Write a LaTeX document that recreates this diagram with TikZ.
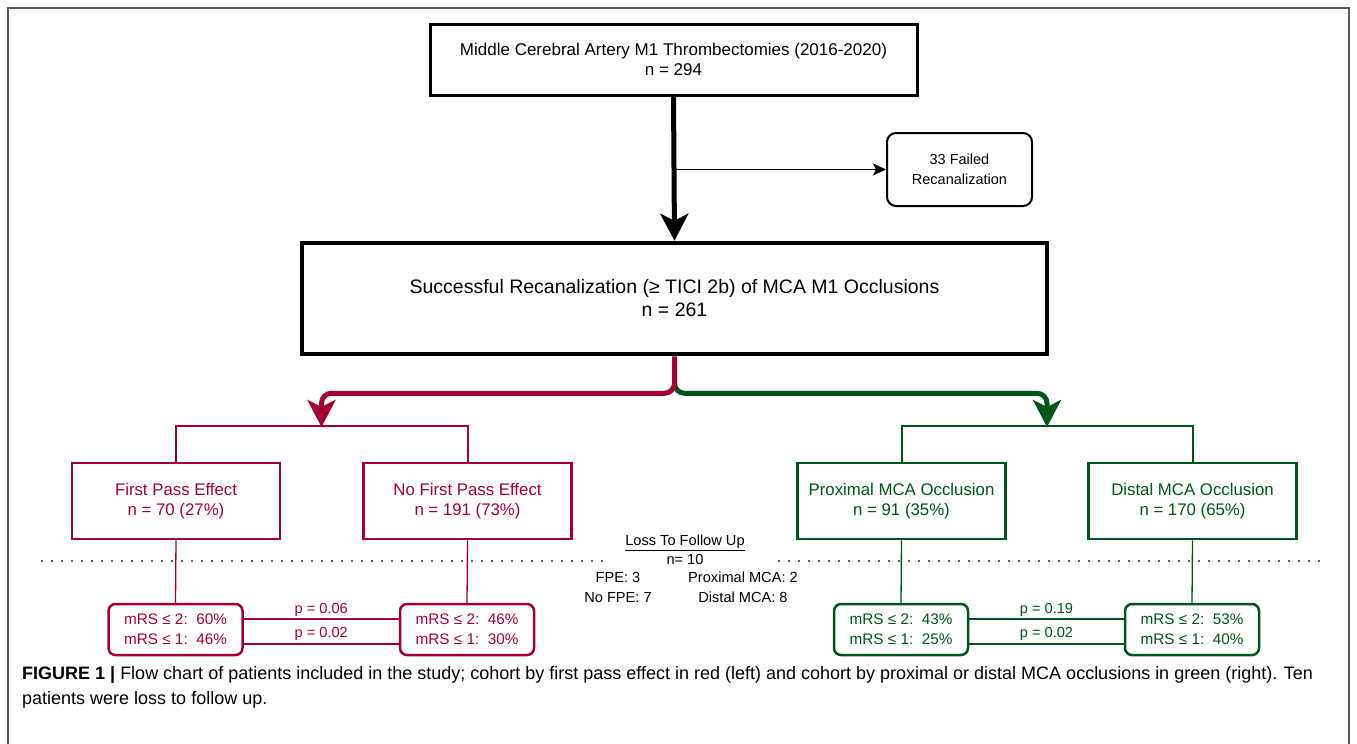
\documentclass[tikz,border=0pt]{standalone}
\usepackage{fontspec}
\setmainfont{Liberation Sans}
\usetikzlibrary{arrows.meta}
\definecolor{myred}{RGB}{165,0,52}
\definecolor{mygreen}{RGB}{0,85,25}
\begin{document}
\begin{tikzpicture}[x=1pt,y=-1pt,
  topbox/.style={draw=black, line width=3pt, minimum width=487pt, minimum height=71pt, align=center, font=\fontsize{17}{20}\selectfont},
  bigbox/.style={draw=black, line width=4.5pt, minimum width=745pt, minimum height=111pt, align=center, font=\fontsize{19.5}{23}\selectfont},
  failbox/.style={draw=black, line width=2pt, rounded corners=9pt, minimum width=145pt, minimum height=73pt, align=center, font=\fontsize{14.5}{20}\selectfont},
  groupbox/.style={draw=#1, text=#1, line width=2.5pt, minimum width=208pt, minimum height=76pt, align=center, font=\fontsize{16.8}{20}\selectfont},
  mrsbox/.style={draw=#1, text=#1, line width=2.5pt, rounded corners=7pt, minimum width=134pt, minimum height=51pt, align=center, font=\fontsize{15.3}{20}\selectfont},
  bigarrow/.style={draw=#1, line width=5pt, -{Stealth[length=27pt,width=28pt,inset=7pt]}},
  bracket/.style={draw=#1, line width=2pt},
  thinline/.style={draw=#1, line width=1.3pt},
  plabel/.style={text=#1, font=\fontsize{14.6}{16}\selectfont},
  losstext/.style={font=\fontsize{14.6}{19.5}\selectfont, align=center},
  dotline/.style={line width=2.2pt, dash pattern=on 0pt off 10pt, line cap=round, draw=black!85},
  captext/.style={anchor=base west, font=\fontsize{18}{20}\selectfont, inner sep=0pt}
]
\useasboundingbox (0,0) rectangle (1357,744);
\draw[line width=1.5pt, draw=black!65] (8,744) -- (8,8) -- (1349,8) -- (1349,744);

\node[topbox] (top) at (673.5,59.5) {Middle Cerebral Artery M1 Thrombectomies (2016-2020)\\n = 294};
\node[bigbox] (big) at (674.5,298.5) {Successful Recanalization (≥ TICI 2b) of MCA M1 Occlusions\\n = 261};
\node[failbox] (fail) at (959.5,169.5) {33 Failed\\Recanalization};

\node[groupbox=myred] (fpe) at (176,501) {First Pass Effect\\n = 70 (27\%)};
\node[groupbox=myred] (nofpe) at (467.5,501) {No First Pass Effect\\n = 191 (73\%)};
\node[groupbox=mygreen] (prox) at (901.5,501) {Proximal MCA Occlusion\\n = 91 (35\%)};
\node[groupbox=mygreen] (dist) at (1192.5,501) {Distal MCA Occlusion\\n = 170 (65\%)};

\node[mrsbox=myred] (m1) at (175.5,629.5) {mRS ≤ 2:\ \ 60\%\\mRS ≤ 1:\ \ 46\%};
\node[mrsbox=myred] (m2) at (467,629.5) {mRS ≤ 2:\ \ 46\%\\mRS ≤ 1:\ \ 30\%};
\node[mrsbox=mygreen] (m3) at (901,629.5) {mRS ≤ 2:\ \ 43\%\\mRS ≤ 1:\ \ 25\%};
\node[mrsbox=mygreen] (m4) at (1192,629.5) {mRS ≤ 2:\ \ 53\%\\mRS ≤ 1:\ \ 40\%};

% main arrows
\draw[bigarrow=black] (top.south) -- (big.north);
\draw[line width=1.8pt, -{Stealth[length=13pt,width=12pt,inset=3pt]}] (top.south |- fail.west) -- (fail.west);

\coordinate (rs) at (321.5,427);
\coordinate (gs) at (1047,427);
\draw[bigarrow=mygreen, rounded corners=10pt] (big.south) ++(0,25) -- ++(0,12) -| (gs);
\draw[bigarrow=myred, rounded corners=10pt] (big.south) -- ++(0,37) -| (rs);

% brackets
\draw[bracket=myred] (fpe.north) -- ++(0,-36) -| (nofpe.north);
\draw[bracket=mygreen] (prox.north) -- ++(0,-36) -| (dist.north);

% verticals to mRS
\draw[thinline=myred] (fpe.south) -- (m1.north);
\draw[thinline=myred] (nofpe.south) -- (m2.north);
\draw[thinline=mygreen] (prox.south) -- (m3.north);
\draw[thinline=mygreen] (dist.south) -- (m4.north);

% dotted lines
\draw[dotline] (42,561) -- (606,561);
\draw[dotline] (779,561) -- (1325,561);

% p connectors
\draw[thinline=myred] ([yshift=10.5pt]m1.east) -- node[plabel=myred, above=-2pt] {p = 0.06} ([yshift=10.5pt]m2.west);
\draw[thinline=myred] ([yshift=-14.5pt]m1.east) -- node[plabel=myred, above=-1pt] {p = 0.02} ([yshift=-14.5pt]m2.west);
\draw[thinline=mygreen] ([yshift=10.5pt]m3.east) -- node[plabel=mygreen, above=-2pt] {p = 0.19} ([yshift=10.5pt]m4.west);
\draw[thinline=mygreen] ([yshift=-14.5pt]m3.east) -- node[plabel=mygreen, above=-1pt] {p = 0.02} ([yshift=-14.5pt]m4.west);

% loss to follow up
\node[losstext] (loss) at (685,550) {\underline{Loss To Follow Up}\\n= 10};
\node[losstext] (lossa) at (618,587.5) {FPE: 3\\No FPE: 7};
\node[losstext] (lossb) at (743,587.5) {Proximal MCA: 2\\Distal MCA: 8};

% caption
\node[captext] (cap1) at (22,679) {\textbf{FIGURE 1 |} Flow chart of patients included in the study; cohort by first pass effect in red (left) and cohort by proximal or distal MCA occlusions in green (right). Ten};
\node[captext] (cap2) at (22,704) {patients were loss to follow up.};
\end{tikzpicture}
\end{document}
